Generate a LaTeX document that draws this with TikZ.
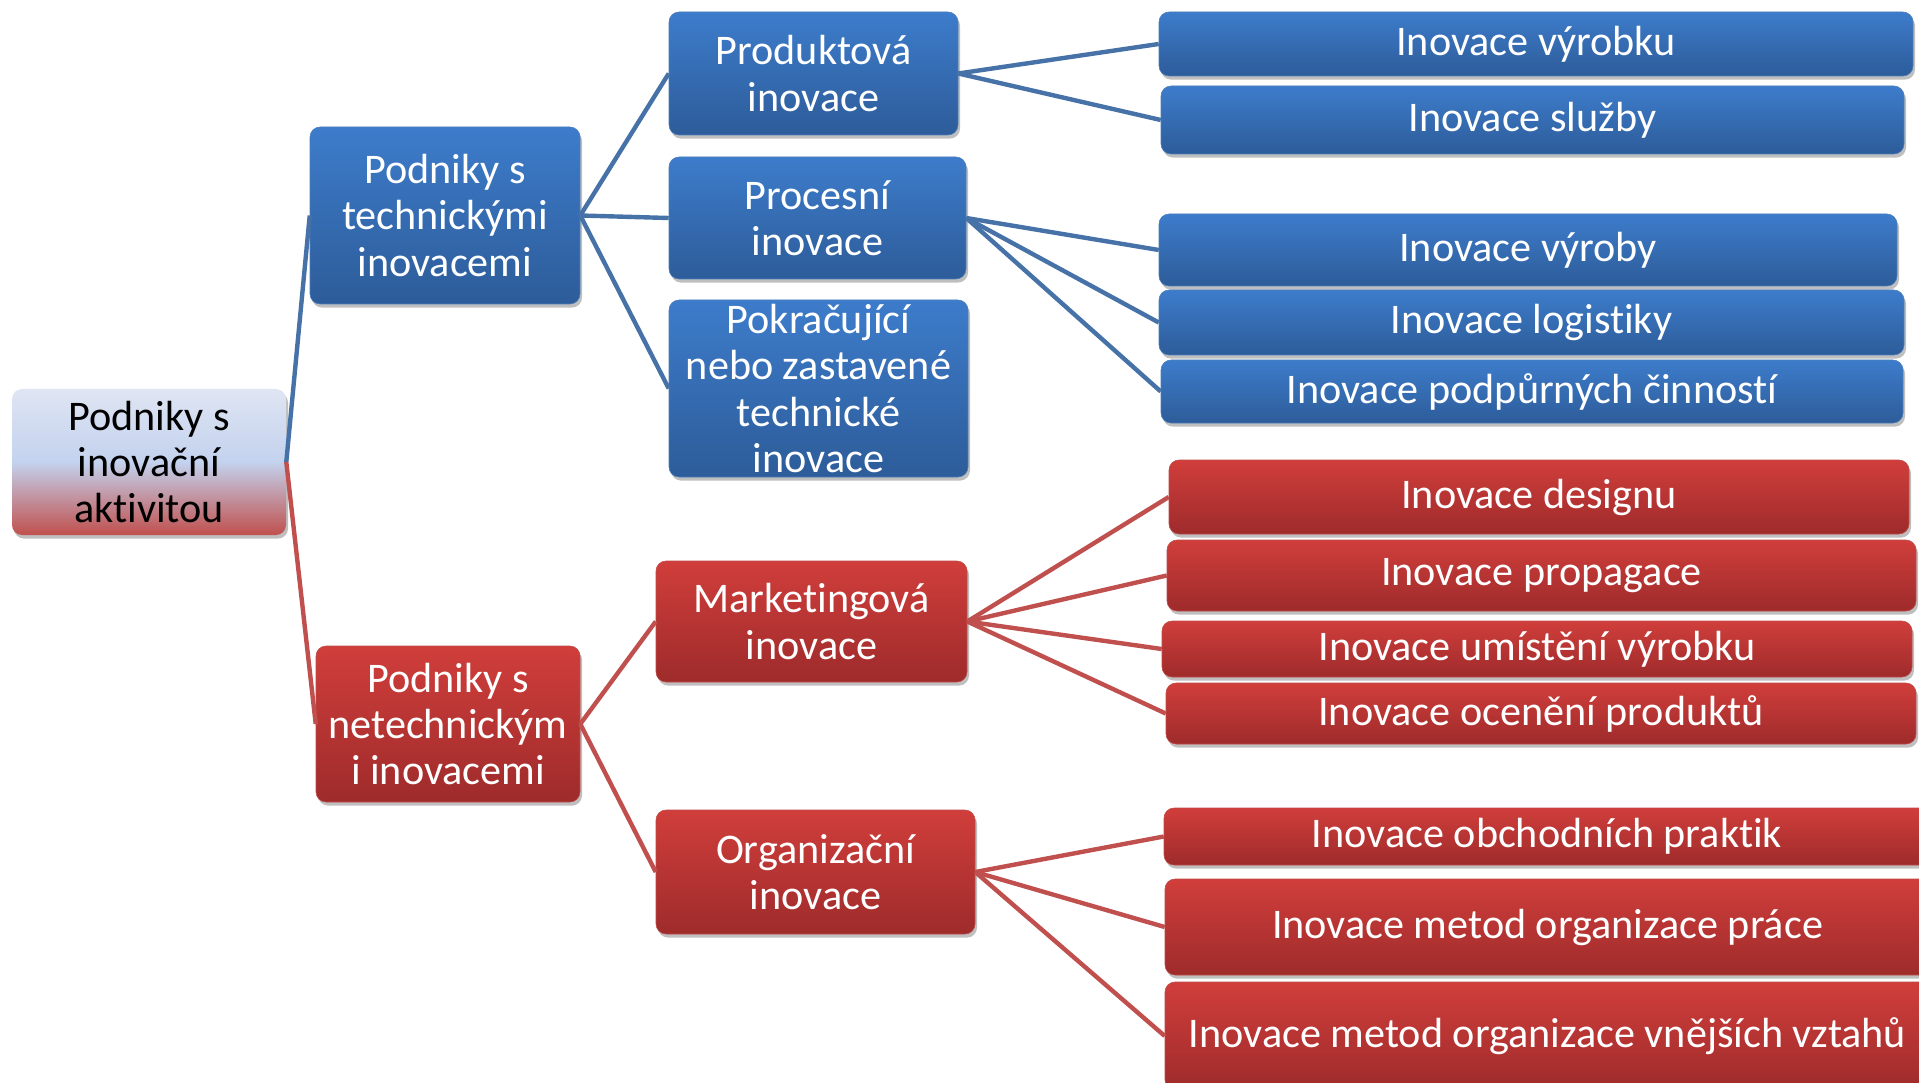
\documentclass[tikz,border=0pt]{standalone}
\usepackage{fontspec}
\setmainfont{Carlito}[Ligatures=NoCommon]
\usepackage{tikz}
\usetikzlibrary{shadows}
\definecolor{blueTop}{HTML}{3D7CCB}
\definecolor{blueBot}{HTML}{2D5C99}
\definecolor{blueEdge}{HTML}{4A7EBB}
\definecolor{blueLink}{HTML}{4672A8}
\definecolor{redTop}{HTML}{D03E3B}
\definecolor{redBot}{HTML}{9E2B2B}
\definecolor{redEdge}{HTML}{BE4B48}
\definecolor{redLink}{HTML}{C0504D}
\definecolor{rootTop}{HTML}{DFE5F3}
\definecolor{rootMid}{HTML}{C3D2EE}
\definecolor{rootBot}{HTML}{C0504D}
\tikzset{
	sz/.style 2 args={minimum width=#1*0.25mm, minimum height=#2*0.25mm},
	box/.style={rounded corners=2.5mm, inner sep=0pt, align=center, line width=0.4pt,
		font=\fontsize{30}{33}\selectfont,
		drop shadow={shadow xshift=0.5mm, shadow yshift=-0.9mm, opacity=0.25, fill=black}},
	bluebox/.style={box, draw=blueEdge, top color=blueTop, bottom color=blueBot, text=white},
	redbox/.style={box, draw=redEdge, top color=redTop, bottom color=redBot, text=white},
	rootbox/.style={box, draw=none, top color=rootTop, bottom color=rootBot, middle color=rootMid, text=black},
	bluelink/.style={draw=blueLink, line width=1.1mm},
	redlink/.style={draw=redLink, line width=1.1mm}
}

\begin{document}
\begin{tikzpicture}[x=0.25mm, y=-0.25mm]
			%%%%% START %%%%%
			\useasboundingbox (0, 0) rectangle (1919, 1083);
			
			\node[rootbox, sz={274}{146}] (root) at (149, 462) {Podniky s\\inovační\\aktivitou};
			
			\node[bluebox, sz={270}{177}] (tech) at (445, 215.5) {Podniky s\\technickými\\inovacemi};
			\node[redbox, sz={264}{156}] (nontech) at (448, 724) {Podniky s\\netechnickým\\i inovacemi};
			
			\node[bluebox, sz={289}{123}] (prod) at (813.5, 73.5) {Produktová\\inovace};
			\node[bluebox, sz={297}{122}] (proc) at (817.5, 218) {Procesní\\inovace};
			\node[bluebox, sz={299}{177}] (pokr) at (818.5, 388.5) {Pokračující\\nebo zastavené\\technické\\inovace};
			\node[redbox, sz={311}{121}] (mark) at (811.5, 621.5) {Marketingová\\inovace};
			\node[redbox, sz={319}{124}] (org) at (815.5, 872) {Organizační\\inovace};
			
			\node[bluebox, sz={754}{64}] (vyrobku) at (1536, 44) {Inovace výrobku};
			\node[bluebox, sz={743}{68}] (sluzby) at (1532.5, 120) {Inovace služby};
			\node[bluebox, sz={738}{72}] (vyroby) at (1528, 250) {Inovace výroby};
			\node[bluebox, sz={745}{65}] (logist) at (1531.5, 322.5) {Inovace logistiky};
			\node[bluebox, sz={742}{63}] (podp) at (1532, 391.5) {Inovace podpůrných činností};
			
			\node[redbox, sz={740}{74}] (design) at (1539, 497) {Inovace designu};
			\node[redbox, sz={749}{71}] (propag) at (1541.5, 575.5) {Inovace propagace};
			\node[redbox, sz={750}{56}] (umist) at (1537, 649) {Inovace umístění výrobku};
			\node[redbox, sz={750}{61}] (ocen) at (1541, 713.5) {Inovace ocenění produktů};
			\node[redbox, sz={766}{57}] (obch) at (1547, 836.5) {Inovace obchodních praktik};
			\node[redbox, sz={765}{96}] (prace) at (1547.5, 927) {Inovace metod organizace práce};
			\node[redbox, sz={765}{108}] (vnej) at (1547.5, 1036) {Inovace metod organizace vnějších vztahů};
			
			% connectors
			\draw[bluelink] (root.east) -- (tech.west);
			\draw[redlink] (root.east) -- (nontech.west);
			
			\draw[bluelink] (tech.east) -- (prod.west);
			\draw[bluelink] (tech.east) -- (proc.west);
			\draw[bluelink] (tech.east) -- (pokr.west);
			\draw[redlink] (nontech.east) -- (mark.west);
			\draw[redlink] (nontech.east) -- (org.west);
			
			\draw[bluelink] (prod.east) -- (vyrobku.west);
			\draw[bluelink] (prod.east) -- (sluzby.west);
			\draw[bluelink] (proc.east) -- (vyroby.west);
			\draw[bluelink] (proc.east) -- (logist.west);
			\draw[bluelink] (proc.east) -- (podp.west);
			
			\draw[redlink] (mark.east) -- (design.west);
			\draw[redlink] (mark.east) -- (propag.west);
			\draw[redlink] (mark.east) -- (umist.west);
			\draw[redlink] (mark.east) -- (ocen.west);
			\draw[redlink] (org.east) -- (obch.west);
			\draw[redlink] (org.east) -- (prace.west);
			\draw[redlink] (org.east) -- (vnej.west);
			
			%%%%% END %%%%%
		\end{tikzpicture}
\end{document}
